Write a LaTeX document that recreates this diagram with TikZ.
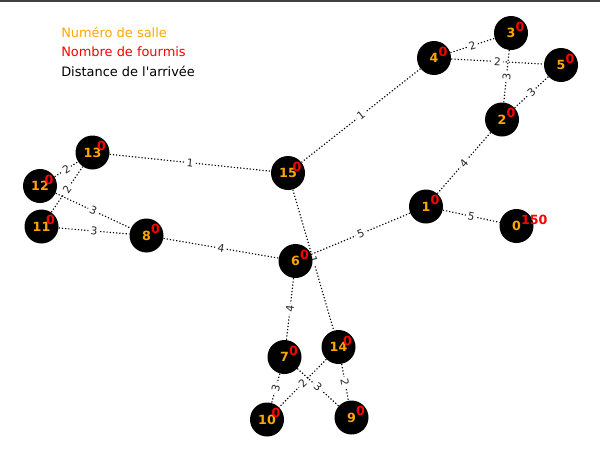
\documentclass[tikz,border=0pt]{standalone}
\usepackage{fontspec}
\setmainfont{DejaVu Sans}
\usepackage{xcolor}
\usepackage{tikz}
\usetikzlibrary{positioning, backgrounds}
\definecolor{numsalle}{RGB}{255,165,0}
\definecolor{nbfourmis}{RGB}{255,0,0}
\newcommand{\salle}{\fontsize{9.5}{11}\selectfont\bfseries}
\newcommand{\dist}{\fontsize{8}{9.5}\selectfont}
\newcommand{\legfont}{\fontsize{9.7}{12}\selectfont}

\begin{document}
\begin{tikzpicture}[x=0.75pt, y=-0.75pt,
  salle/.style={circle, fill=black, minimum size=25.5pt, inner sep=0pt, text=numsalle, font=\salle},
  fourmis/.style={anchor=west, inner sep=0pt, text=nbfourmis, font=\salle, xshift=3.2pt, yshift=4.8pt},
  chemin/.style={draw=black, line width=0.85pt, dash pattern=on 0.9pt off 1.5pt},
  poids/.style={sloped, fill=white, inner sep=1.5pt, font=\dist, text=black!85},
  legende/.style={anchor=west, inner sep=0pt, font=\legfont}]
\useasboundingbox (0,0) rectangle (600,450);
\fill [black!75] (0,0) rectangle (600,2);

\node [legende, text=numsalle] (leg1) at (61,32) {Numéro de salle};
\node [legende, text=nbfourmis, yshift=-14.6pt] (leg2) at (leg1.west) {Nombre de fourmis};
\node [legende, text=black, yshift=-14.6pt] (leg3) at (leg2.west) {Distance de l\textquotesingle arrivée};

\node [salle] (n0) at (516.5,226) {0};
\node [salle] (n1) at (426,206.5) {1};
\node [salle] (n2) at (502,119.5) {2};
\node [salle] (n3) at (511,33) {3};
\node [salle] (n4) at (434,58) {4};
\node [salle] (n5) at (561,65) {5};
\node [salle] (n6) at (295.5,261) {6};
\node [salle] (n7) at (284.5,357) {7};
\node [salle] (n8) at (146.5,235.5) {8};
\node [salle] (n9) at (351.5,417.5) {9};
\node [salle] (n10) at (267,419.5) {10};
\node [salle] (n11) at (41.5,226.5) {11};
\node [salle] (n12) at (40,186) {12};
\node [salle] (n13) at (92.5,152.5) {13};
\node [salle] (n14) at (338.5,347) {14};
\node [salle] (n15) at (288,173) {15};

\node [fourmis] (f0) at (n0) {150};
\node [fourmis] (f1) at (n1) {0};
\node [fourmis] (f2) at (n2) {0};
\node [fourmis] (f3) at (n3) {0};
\node [fourmis] (f4) at (n4) {0};
\node [fourmis] (f5) at (n5) {0};
\node [fourmis] (f6) at (n6) {0};
\node [fourmis] (f7) at (n7) {0};
\node [fourmis] (f8) at (n8) {0};
\node [fourmis] (f9) at (n9) {0};
\node [fourmis] (f10) at (n10) {0};
\node [fourmis] (f11) at (n11) {0};
\node [fourmis] (f12) at (n12) {0};
\node [fourmis] (f13) at (n13) {0};
\node [fourmis] (f14) at (n14) {0};
\node [fourmis] (f15) at (n15) {0};

\begin{scope}[on background layer]
\draw (n4) edge[chemin] node[poids]{2} (n3);
\draw (n4) edge[chemin] node[poids]{2} (n5);
\draw (n3) edge[chemin] node[poids]{3} (n2);
\draw (n5) edge[chemin] node[poids]{3} (n2);
\draw (n2) edge[chemin] node[poids]{4} (n1);
\draw (n4) edge[chemin] node[poids]{1} (n15);
\draw (n1) edge[chemin] node[poids]{5} (n0);
\draw (n6) edge[chemin] node[poids]{5} (n1);
\draw (n13) edge[chemin] node[poids]{1} (n15);
\draw (n12) edge[chemin] node[poids]{2} (n13);
\draw (n11) edge[chemin] node[poids]{2} (n13);
\draw (n12) edge[chemin] node[poids]{3} (n8);
\draw (n11) edge[chemin] node[poids]{3} (n8);
\draw (n8) edge[chemin] node[poids]{4} (n6);
\draw (n15) edge[chemin] node[poids]{1} (n14);
\draw (n6) edge[chemin] node[poids]{4} (n7);
\draw (n7) edge[chemin] node[poids]{3} (n10);
\draw (n7) edge[chemin] node[poids]{3} (n9);
\draw (n14) edge[chemin] node[poids]{2} (n10);
\draw (n14) edge[chemin] node[poids]{2} (n9);
\end{scope}
\end{tikzpicture}
\end{document}
